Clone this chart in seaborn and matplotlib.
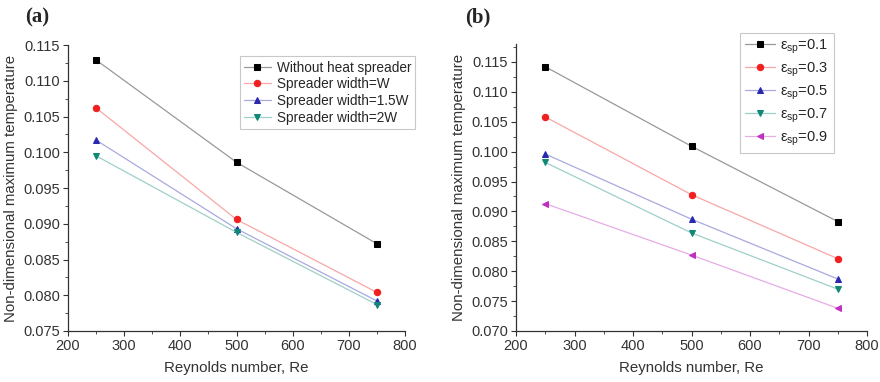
import matplotlib
matplotlib.use("Agg")
import matplotlib.pyplot as plt
import matplotlib.colors as mcolors
from matplotlib.ticker import MultipleLocator
import seaborn as sns
import pandas as pd
import numpy as np

sns.set_theme(style="ticks")
plt.rcParams['font.family'] = ['Liberation Sans', 'DejaVu Sans']
plt.rcParams['mathtext.fontset'] = 'custom'
plt.rcParams['mathtext.rm'] = 'Liberation Sans'

re_vals = [250, 500, 750]

# Panel (a)
labels_a = ["Without heat spreader", "Spreader width=W", "Spreader width=1.5W", "Spreader width=2W"]
without_spreader = [0.1129, 0.0986, 0.0872]
width_W = [0.1062, 0.0906, 0.0804]
width_15W = [0.1017, 0.0893, 0.0792]
width_2W = [0.0995, 0.0888, 0.0787]
series_a = [without_spreader, width_W, width_15W, width_2W]

# Panel (b)
labels_b = ["ε$_{\\mathregular{sp}}$=0.1", "ε$_{\\mathregular{sp}}$=0.3", "ε$_{\\mathregular{sp}}$=0.5",
            "ε$_{\\mathregular{sp}}$=0.7", "ε$_{\\mathregular{sp}}$=0.9"]
eps_01 = [0.1142, 0.1009, 0.0883]
eps_03 = [0.1058, 0.0928, 0.0821]
eps_05 = [0.0996, 0.0887, 0.0787]
eps_07 = [0.0982, 0.0864, 0.0770]
eps_09 = [0.0913, 0.0827, 0.0738]
series_b = [eps_01, eps_03, eps_05, eps_07, eps_09]

colors = ["#000000", "#f02020", "#2828b0", "#108878", "#c030c0"]
markers = ["s", "o", "^", "v", "<"]

fig = plt.figure(figsize=(8.8, 3.82), dpi=100)
axa = fig.add_axes([68/880, 51/382, 337/880, 286/382])
axb = fig.add_axes([516/880, 51/382, 351/880, 287/382])

def light(c, f=0.6):
    r, g, b = mcolors.to_rgb(c)
    return (r + (1-r)*f, g + (1-g)*f, b + (1-b)*f)

def draw(ax, labels, series):
    rows = []
    for lab, vals in zip(labels, series):
        for x, y in zip(re_vals, vals):
            rows.append({"Re": x, "T": y, "series": lab})
    df = pd.DataFrame(rows)
    n = len(labels)
    sns.lineplot(data=df, x="Re", y="T", hue="series", style="series",
                 hue_order=labels, style_order=labels,
                 palette=dict(zip(labels, colors[:n])),
                 markers=dict(zip(labels, markers[:n])), dashes=False,
                 markersize=4.6, linewidth=0.9, ax=ax, legend=False)
    handles = []
    for line, c in zip(ax.lines[:n], colors[:n]):
        line.set_color(light(c))
        line.set_markerfacecolor(c)
        line.set_markeredgecolor(c)
        handles.append(line)
    return handles

ha = draw(axa, labels_a, series_a)
hb = draw(axb, labels_b, series_b)

for ax in (axa, axb):
    ax.set_xlim(200, 800)
    ax.xaxis.set_major_locator(MultipleLocator(100))
    ax.xaxis.set_minor_locator(MultipleLocator(50))
    ax.yaxis.set_major_locator(MultipleLocator(0.005))
    ax.yaxis.set_minor_locator(MultipleLocator(0.0025))
    ax.yaxis.set_major_formatter(matplotlib.ticker.FormatStrFormatter('%.3f'))
    ax.tick_params(which='major', direction='out', length=3.5, width=0.8, colors='#333333', labelsize=10.5, pad=2)
    ax.tick_params(which='minor', direction='out', length=2, width=0.6, colors='#333333')
    for s in ('top', 'right'):
        ax.spines[s].set_visible(False)
    for s in ('left', 'bottom'):
        ax.spines[s].set_color('#333333')
        ax.spines[s].set_linewidth(0.9)
    ax.set_xlabel("Reynolds number, Re", fontsize=10.8, color='#333333', labelpad=6)
    ax.set_ylabel("Non-dimensional maximum temperature", fontsize=10.8, color='#333333', labelpad=4)

axa.set_ylim(0.075, 0.115)
axb.set_ylim(0.070, 0.118)

leg_a = axa.legend(handles=ha, labels=labels_a, loc='upper right', bbox_to_anchor=(1.03, 0.96),
                   fontsize=9.8, frameon=True, fancybox=False, edgecolor='#bbbbbb',
                   handlelength=2.0, handletextpad=0.4, labelspacing=0.2, borderpad=0.3,
                   borderaxespad=0)
leg_b = axb.legend(handles=hb, labels=labels_b, loc='upper right', bbox_to_anchor=(0.905, 1.04),
                   fontsize=10.5, frameon=True, fancybox=False, edgecolor='#bbbbbb',
                   handlelength=2.0, handletextpad=0.4, labelspacing=0.3, borderpad=0.35,
                   borderaxespad=0)
for leg in (leg_a, leg_b):
    leg.get_frame().set_linewidth(0.8)

fig.text(25/880, 1 - 17/382, "(a)", fontsize=15, fontweight='bold', family='Liberation Serif', va='center')
fig.text(465/880, 1 - 17/382, "(b)", fontsize=15, fontweight='bold', family='Liberation Serif', va='center')

fig.savefig("out.png", dpi=100)
